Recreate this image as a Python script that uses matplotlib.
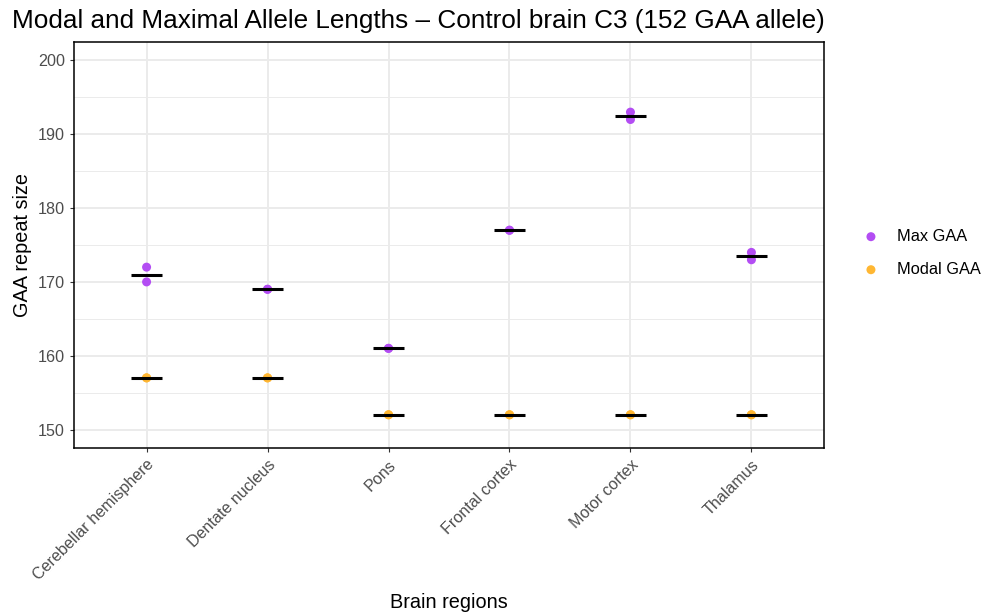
import numpy as np
import matplotlib
matplotlib.use("Agg")
import matplotlib.pyplot as plt
from matplotlib.ticker import MultipleLocator

plt.rcParams['font.family'] = ['Liberation Sans', 'DejaVu Sans']

regions = ["Cerebellar hemisphere", "Dentate nucleus", "Pons",
           "Frontal cortex", "Motor cortex", "Thalamus"]
# two replicate reads per region
max_gaa = [[172, 170], [169, 169], [161, 161], [177, 177], [193, 192], [174, 173]]
modal_gaa = [[157, 157], [157, 157], [152, 152], [152, 152], [152, 152], [152, 152]]

col_max = "#B34DF3"
col_modal = "#FFB733"

fig = plt.figure(figsize=(9.84, 6.14), dpi=100)
ax = fig.add_axes([74 / 984, 1 - 448 / 614, 750 / 984, 406 / 614])

x = np.arange(1, len(regions) + 1)
for i, xi in enumerate(x):
    for vals, c in ((max_gaa[i], col_max), (modal_gaa[i], col_modal)):
        ax.scatter([xi] * len(vals), vals, s=42, color=c, edgecolors='none', zorder=3)
        m = np.mean(vals)
        ax.plot([xi - 0.125, xi + 0.125], [m, m], color='black', lw=2.2, zorder=4,
                solid_capstyle='butt')

ax.set_xlim(0.4, len(regions) + 0.6)
ax.set_ylim(147.5, 202.5)
ax.yaxis.set_major_locator(MultipleLocator(10))
ax.yaxis.set_minor_locator(MultipleLocator(5))
ax.set_xticks(x)
ax.set_xticklabels(regions, rotation=45, ha='right', rotation_mode='anchor')

ax.grid(True, which='major', color='#EBEBEB', lw=1.4, zorder=0)
ax.grid(True, which='minor', axis='y', color='#EBEBEB', lw=0.7, zorder=0)
ax.set_axisbelow(True)
for sp in ax.spines.values():
    sp.set_color('black')
    sp.set_linewidth(1.1)
ax.tick_params(axis='both', which='major', length=3, color='#333333',
               labelsize=11.6, labelcolor='#4D4D4D')
ax.tick_params(axis='y', which='minor', length=0)

ax.set_xlabel("Brain regions", fontsize=14.3, labelpad=7)
ax.set_ylabel("GAA repeat size", fontsize=14.3, labelpad=4)
fig.text(12 / 984, 1 - 21 / 614, "Modal and Maximal Allele Lengths \u2013 Control brain C3 (152 GAA allele)",
         fontsize=18.8, va='center', ha='left')

h1 = ax.scatter([], [], s=42, color=col_max, edgecolors='none')
h2 = ax.scatter([], [], s=42, color=col_modal, edgecolors='none')
fig.legend([h1, h2], ["Max GAA", "Modal GAA"], loc='center left',
           bbox_to_anchor=(848 / 984, 1 - 253 / 614), frameon=False,
           fontsize=11.8, handletextpad=0.6, labelspacing=1.1, borderaxespad=0)

fig.savefig("out.png", dpi=100)
